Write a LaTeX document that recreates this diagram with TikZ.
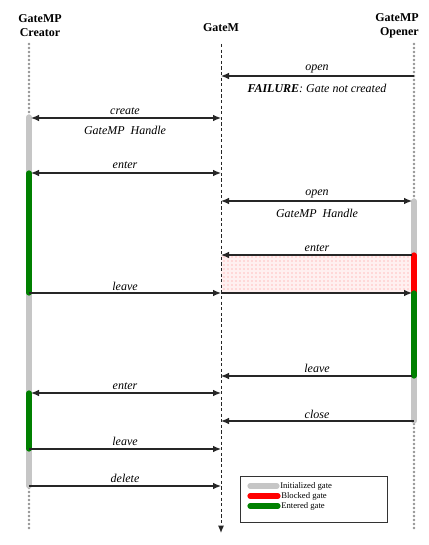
\documentclass[tikz,border=0pt]{standalone}
\usepackage{fontspec}
\setmainfont{Liberation Serif}
\usetikzlibrary{arrows.meta,patterns}
\begin{document}
\begin{tikzpicture}[x=0.75pt,y=-0.75pt,
  hdr/.style={font=\bfseries\fontsize{9}{10.5}\selectfont, align=center, inner sep=0pt},
  lbl/.style={font=\itshape\fontsize{9}{10}\selectfont, inner sep=0pt},
  lifedot/.style={gray!85},
  midline/.style={black!85, line width=0.75pt, dash pattern=on 2.4pt off 1.8pt},
  msg/.style={black!85, line width=0.9pt, -{Latex[length=6pt,width=5pt]}},
  dmsg/.style={black!85, line width=0.9pt, {Latex[length=6pt,width=5pt]}-{Latex[length=6pt,width=5pt]}},
  bar/.style={line width=3.9pt, line cap=round},
  initb/.style={bar, gray!45},
  blockb/.style={bar, red},
  entb/.style={bar, green!50!black},
  legtext/.style={font=\fontsize{6.5}{7.5}\selectfont, anchor=west, inner sep=0pt}
]
\useasboundingbox (0,0) rectangle (428,545);

% headers
\node[hdr] (hC) at (40,26) {GateMP\\Creator};
\node[hdr] (hM) at (221,28) {GateM};
\node[hdr, align=right] (hO) at (397,26) {GateMP\\Opener};

% lifelines (dotted)
\foreach \yy in {44,48,...,528} {
  \fill[lifedot] (29,\yy) circle (1.05pt);
  \fill[lifedot] (414,\yy) circle (1.05pt);
}
\coordinate (mTop) at (221,44);
\coordinate (mBot) at (221,533);

% blocked region
\coordinate (bA) at (221,255);
\coordinate (bB) at (414,293);
\fill[red!6] (bA) rectangle (bB);
\fill[pattern=dots, pattern color=red!45] (bA) rectangle (bB);

\draw[midline, -{Latex[length=5.5pt,width=4.5pt]}] (mTop) -- (mBot);

% activation bars creator
\coordinate (c1) at (29,117);
\coordinate (c2) at (29,173);
\coordinate (c3) at (29,293);
\coordinate (c4) at (29,393);
\coordinate (c5) at (29,449);
\coordinate (c6) at (29,486);
\draw[initb] (c1) -- (c2);
\draw[initb] (c3) -- (c4);
\draw[initb] (c5) -- (c6);
\draw[entb] (c2) -- (c3);
\draw[entb] (c4) -- (c5);

% activation bars opener
\coordinate (o1) at (414,201);
\coordinate (o2) at (414,255);
\coordinate (o3) at (414,293);
\coordinate (o4) at (414,376);
\coordinate (o5) at (414,421);
\coordinate (o0) at (414,76);
\draw[initb] (o1) -- (o2);
\draw[initb] (o4) -- (o5);
\draw[blockb] (o2) -- (o3);
\draw[entb] (o3) -- (o4);

% GateM points
\coordinate (m0) at (221,76);
\coordinate (m1) at (221,118);
\coordinate (m2) at (221,173);
\coordinate (m3) at (221,201);
\coordinate (m4) at (221,255);
\coordinate (m5) at (221,293);
\coordinate (m6) at (221,376);
\coordinate (m7) at (221,393);
\coordinate (m8) at (221,421);
\coordinate (m9) at (221,449);
\coordinate (m10) at (221,486);

% messages
\draw[msg] (o0) -- (m0);
\node[lbl] (t1) at (317,69) {open};
\node[lbl] (t1b) at (317,88) {\textbf{FAILURE}: Gate not created};

\draw[dmsg] ([xshift=1.5pt]c1|-m1) -- (m1);
\node[lbl] (t2) at (125,111) {create};
\node[lbl] (t2b) at (125,130) {GateMP\ \ Handle};

\draw[dmsg] ([xshift=1.5pt]c2) -- (m2);
\node[lbl] (t3) at (125,165) {enter};

\draw[dmsg] (m3) -- ([xshift=-1.5pt]o1);
\node[lbl] (t4) at (317,194) {open};
\node[lbl] (t4b) at (317,213) {GateMP\ \ Handle};

\draw[msg] ([xshift=-1.5pt]o2) -- (m4);
\node[lbl] (t5) at (317,248) {enter};

\draw[msg] (c3) -- (m5);
\draw[msg] (m5) -- ([xshift=-1.5pt]o3);
\node[lbl] (t6) at (125,286) {leave};

\draw[msg] ([xshift=-1.5pt]o4) -- (m6);
\node[lbl] (t7) at (317,368) {leave};

\draw[dmsg] ([xshift=1.5pt]c4) -- (m7);
\node[lbl] (t8) at (125,386) {enter};

\draw[msg] (o5) -- (m8);
\node[lbl] (t9) at (317,414) {close};

\draw[msg] (c5) -- (m9);
\node[lbl] (t10) at (125,441) {leave};

\draw[msg] (c6) -- (m10);
\node[lbl] (t11) at (125,478) {delete};

% legend
\coordinate (lgA) at (240,476);
\coordinate (lgB) at (387,522);
\draw[black!80, line width=0.6pt] (lgA) rectangle (lgB);
\coordinate (l1a) at (250,486); \coordinate (l1b) at (277,486);
\coordinate (l2a) at (250,496); \coordinate (l2b) at (278,496);
\coordinate (l3a) at (250,506); \coordinate (l3b) at (278,506);
\draw[initb] (l1a) -- (l1b);
\draw[blockb] (l2a) -- (l2b);
\draw[entb] (l3a) -- (l3b);
\node[legtext] (lt1) at (280,486) {Initialized gate};
\node[legtext] (lt2) at (281,496) {Blocked gate};
\node[legtext] (lt3) at (281,506) {Entered gate};
\end{tikzpicture}
\end{document}
